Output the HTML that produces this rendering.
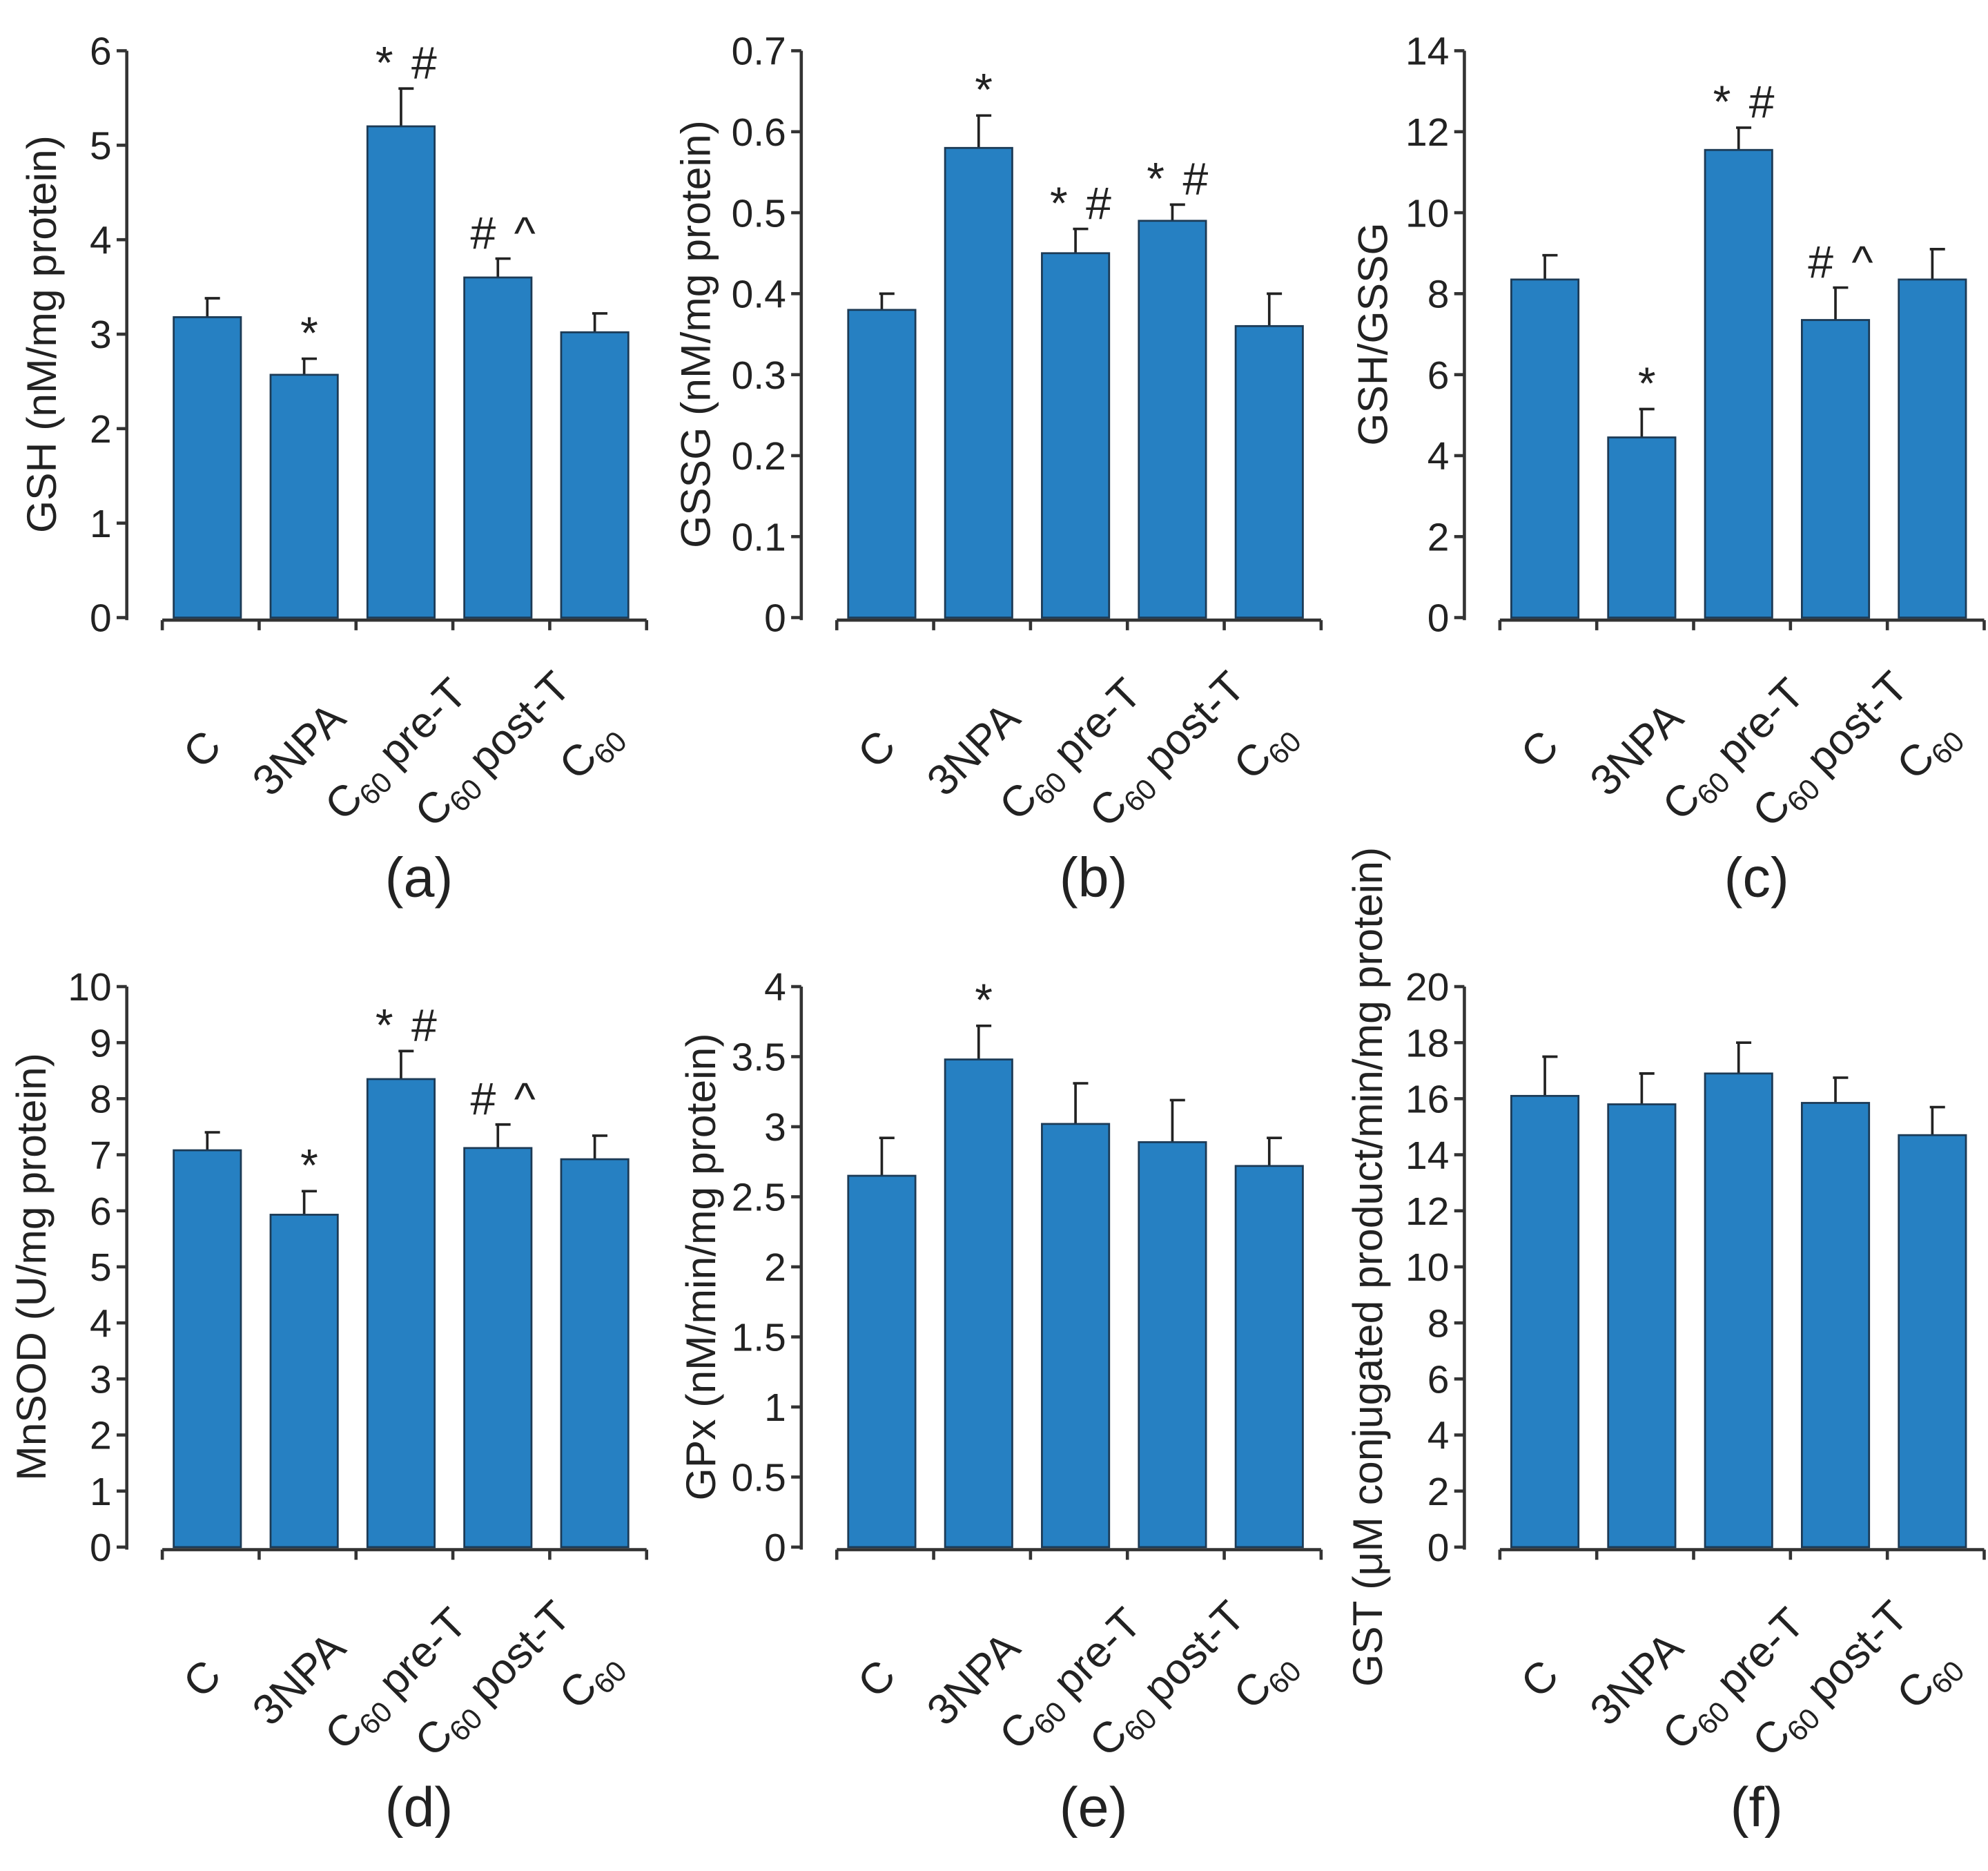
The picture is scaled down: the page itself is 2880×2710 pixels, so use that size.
<!DOCTYPE html>
<html><head><meta charset="utf-8"><style>
html,body{margin:0;padding:0;background:#fff}
svg{display:block}
text{font-family:"Liberation Sans",sans-serif;fill:#222}
</style></head><body>
<svg id="chart" width="2880" height="2710" viewBox="0 0 1568 1475.4" xmlns="http://www.w3.org/2000/svg"></svg>
<script>
const categories = ["C","3NPA","C60 pre-T","C60 post-T","C60"];
const valsA = [3.18,2.57,5.2,3.6,3.02];
const errA = [0.2,0.17,0.4,0.2,0.2];
const valsB = [0.38,0.58,0.45,0.49,0.36];
const errB = [0.02,0.04,0.03,0.02,0.04];
const valsC = [8.35,4.45,11.55,7.35,8.35];
const errC = [0.6,0.7,0.55,0.8,0.75];
const valsD = [7.08,5.93,8.35,7.12,6.92];
const errD = [0.32,0.42,0.5,0.42,0.42];
const valsE = [2.65,3.48,3.02,2.89,2.72];
const errE = [0.27,0.24,0.29,0.3,0.2];
const valsF = [16.1,15.8,16.9,15.85,14.7];
const errF = [1.4,1.1,1.1,0.9,1.0];
const ticksA = ["0","1","2","3","4","5","6"];
const ticksB = ["0","0.1","0.2","0.3","0.4","0.5","0.6","0.7"];
const ticksC = ["0","2","4","6","8","10","12","14"];
const ticksD = ["0","1","2","3","4","5","6","7","8","9","10"];
const ticksE = ["0","0.5","1","1.5","2","2.5","3","3.5","4"];
const ticksF = ["0","2","4","6","8","10","12","14","16","18","20"];
const marksA = ["","*","* #","# ^",""];
const marksB = ["","*","* #","* #",""];
const marksC = ["","*","* #","# ^",""];
const marksD = ["","*","* #","# ^",""];
const marksE = ["","*","","",""];
const marksF = ["","","","",""];

const NS="http://www.w3.org/2000/svg";
const svg=document.getElementById('chart');
function el(tag,attrs,parent){const e=document.createElementNS(NS,tag);for(const k in attrs)e.setAttribute(k,attrs[k]);(parent||svg).appendChild(e);return e;}

const panels=[
 {id:'a',ax:100,top:40,base:487,vals:valsA,err:errA,ticks:ticksA,max:6,marks:marksA,ylab:'GSH (nM/mg protein)',ylx:44,lab:'(a)'},
 {id:'b',ax:632,top:40,base:487,vals:valsB,err:errB,ticks:ticksB,max:0.7,marks:marksB,ylab:'GSSG (nM/mg protein)',ylx:560,lab:'(b)'},
 {id:'c',ax:1155,top:40,base:487,vals:valsC,err:errC,ticks:ticksC,max:14,marks:marksC,ylab:'GSH/GSSG',ylx:1094,lab:'(c)'},
 {id:'d',ax:100,top:778,base:1220,vals:valsD,err:errD,ticks:ticksD,max:10,marks:marksD,ylab:'MnSOD (U/mg protein)',ylx:36,lab:'(d)'},
 {id:'e',ax:632,top:778,base:1220,vals:valsE,err:errE,ticks:ticksE,max:4,marks:marksE,ylab:'GPx (nM/min/mg protein)',ylx:564,lab:'(e)'},
 {id:'f',ax:1155,top:778,base:1220,vals:valsF,err:errF,ticks:ticksF,max:20,marks:marksF,ylab:'GST (μM conjugated product/min/mg protein)',ylx:1090,lab:'(f)'}
];

panels.forEach(p=>{
 const g=el('g',{});
 
 
 const y=v=>p.base-(v/p.max)*(p.base-p.top);
 const x0=p.ax+28, step=76.4;
 const ya=el('line',{x1:p.ax,y1:p.top,x2:p.ax,y2:p.base+2,stroke:'#333','stroke-width':2.5},g);
 
 
 p.ticks.forEach((t,i)=>{
  const v=p.max*i/(p.ticks.length-1);
  el('line',{x1:p.ax-8,y1:y(v),x2:p.ax,y2:y(v),stroke:'#333','stroke-width':2.5},g);
  const tt=el('text',{x:p.ax-12,y:y(v)+11,'text-anchor':'end','font-size':31},g);
  tt.textContent=t;
  
  
 });
 const yl=el('text',{x:0,y:0,'text-anchor':'middle','font-size':33,transform:`translate(${p.ylx},${(p.top+p.base)/2}) rotate(-90)`},g);
 yl.textContent=p.ylab;
 
 
 const xa=el('line',{x1:x0,y1:p.base+2,x2:x0+step*5,y2:p.base+2,stroke:'#333','stroke-width':2.5},g);
 
 
 for(let i=0;i<=5;i++) el('line',{x1:x0+step*i,y1:p.base+2,x2:x0+step*i,y2:p.base+10,stroke:'#333','stroke-width':2.5},g);
 p.vals.forEach((v,i)=>{
  const bx=x0+step*i+9, bw=53, cx=bx+bw/2;
  const et=y(v+p.err[i]);
  el('line',{x1:cx,y1:y(v),x2:cx,y2:et,stroke:'#222','stroke-width':2},g);
  el('line',{x1:cx-2,y1:et,x2:cx+10,y2:et,stroke:'#222','stroke-width':2},g);
  const r=el('rect',{x:bx,y:y(v),width:bw,height:p.base-y(v),fill:'#2680c2',stroke:'#1c3a55','stroke-width':1.5},g);
  
  
  if(p.marks[i]){
   const m=el('text',{x:cx+4,y:et-8,'text-anchor':'middle','font-size':36},g);
   m.textContent=p.marks[i].replace(' ','\u2009\u2009');
   
   
  }
  const c=categories[i];
  const lt=el('text',{x:0,y:0,'text-anchor':'middle','font-size':34,transform:`translate(${cx+4},${p.base+112}) rotate(-45)`},g);
  
  
  if(c.startsWith('C60')){
   const t1=el('tspan',{},lt);t1.textContent='C';
   const t2=el('tspan',{'font-size':23,dy:7},lt);t2.textContent='60';
   const rest=c.slice(3);
   if(rest){const t3=el('tspan',{dy:-7},lt);t3.textContent=rest;}
  } else lt.textContent=c;
 });
 const pl=el('text',{x:x0+step*2.65,y:p.base+220,'text-anchor':'middle','font-size':44},g);
 pl.textContent=p.lab;
 
 
});
</script>
</body></html>
